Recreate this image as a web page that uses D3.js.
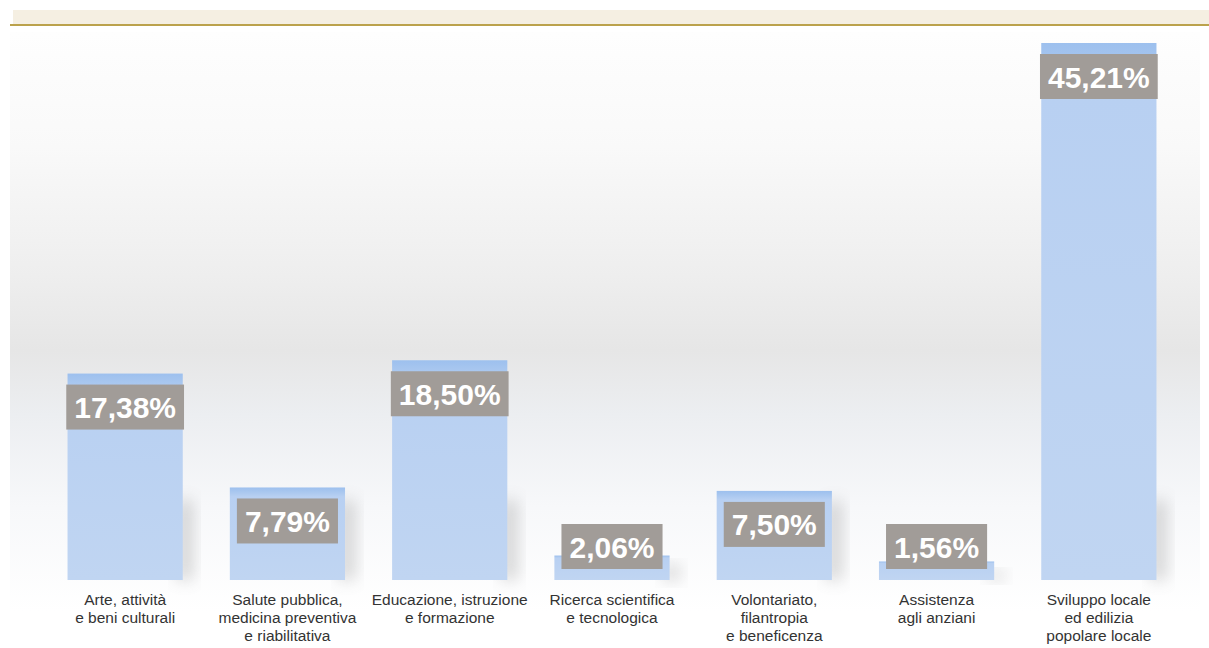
<!DOCTYPE html>
<html>
<head>
<meta charset="utf-8">
<script src="https://cdn.jsdelivr.net/npm/d3@7"></script>
<style>
  body { margin: 0; background: #fff; }
  text { font-family: "Liberation Sans", Arial, sans-serif; }
</style>
</head>
<body>
<div id="chart"></div>
<script>
// categories, one array of lines per bar
const categories = [
    ["Arte, attività", "e beni culturali"],
    ["Salute pubblica,", "medicina preventiva", "e riabilitativa"],
    ["Educazione, istruzione", "e formazione"],
    ["Ricerca scientifica", "e tecnologica"],
    ["Volontariato,", "filantropia", "e beneficenza"],
    ["Assistenza", "agli anziani"],
    ["Sviluppo locale", "ed edilizia", "popolare locale"]
];
const values = [17.38, 7.79, 18.50, 2.06, 7.50, 1.56, 45.21];

const width = 1209;
const height = 648;
const baseline = 580;

const it = d3.formatLocale({ decimal: ",", thousands: ".", grouping: [3], currency: ["", "€"] });
const fmt = v => it.format(".2f")(v) + "%";

const svg = d3.select("#chart").append("svg")
    .attr("width", width)
    .attr("height", height);

const defs = svg.append("defs");

// background glow
const bg = defs.append("linearGradient").attr("id", "bg")
    .attr("x1", 0).attr("y1", 0).attr("x2", 0).attr("y2", 1);
[[0, "#fefefe"], [0.2, "#f9f9f9"], [0.42, "#eeeeee"], [0.55, "#e6e6e6"],
 [0.66, "#eceef1"], [0.82, "#f7f8fa"], [1, "#ffffff"]]
    .forEach(s => bg.append("stop").attr("offset", s[0]).attr("stop-color", s[1]));

// bar fill: stronger blue at the top
const barGrad = defs.append("linearGradient").attr("id", "barGrad")
    .attr("x1", 0).attr("y1", 0).attr("x2", 0).attr("y2", 1);
[[0, "#9dc0ee"], [0.04, "#a7c6ef"], [0.1, "#b8d0f2"], [1, "#c0d5f2"]]
    .forEach(s => barGrad.append("stop").attr("offset", s[0]).attr("stop-color", s[1]));

const blur = defs.append("filter").attr("id", "blur")
    .attr("x", "-50%").attr("y", "-50%").attr("width", "200%").attr("height", "200%");
blur.append("feGaussianBlur").attr("stdDeviation", 8);

// header band
svg.append("rect")
    .attr("x", 13).attr("y", 10).attr("width", width - 13).attr("height", 14)
    .attr("fill", "#f5efe2");
svg.append("line")
    .attr("x1", 10).attr("x2", width).attr("y1", 25).attr("y2", 25)
    .attr("stroke", "#bba24c").attr("stroke-width", 2);

svg.append("rect")
    .attr("x", 10).attr("y", 32).attr("width", 1190).attr("height", 580)
    .attr("fill", "url(#bg)");

// scales
const x = d3.scaleBand()
    .domain(d3.range(values.length))
    .range([44, 1180])
    .paddingInner(0.29)
    .paddingOuter(0.145);

const y = d3.scaleLinear()
    .domain([0, d3.max(values)])
    .range([baseline, 43]);

const bars = svg.append("g").selectAll("g")
    .data(values)
    .join("g");

// soft shadows on the right
bars.append("rect")
    .attr("x", (d, i) => x(i) + x.bandwidth() - 6)
    .attr("y", d => Math.max(y(d) + 10, baseline - 80))
    .attr("width", 16)
    .attr("height", d => baseline - Math.max(y(d) + 10, baseline - 80))
    .attr("fill", "#777777")
    .attr("opacity", 0.3)
    .attr("filter", "url(#blur)");

bars.append("rect")
    .attr("x", (d, i) => x(i))
    .attr("y", d => y(d))
    .attr("width", x.bandwidth())
    .attr("height", d => baseline - y(d))
    .attr("fill", "url(#barGrad)");

// value labels in grey boxes
const boxH = 45;
bars.each(function (d, i) {
    const g = d3.select(this);
    const top = Math.min(y(d) + 11, baseline - 11 - boxH);
    const cx = x(i) + x.bandwidth() / 2;
    const box = g.append("rect").attr("fill", "#a19c98");
    const t = g.append("text")
        .attr("x", cx)
        .attr("y", top + boxH / 2 + 11)
        .attr("text-anchor", "middle")
        .attr("fill", "#ffffff")
        .attr("font-size", 30)
        .attr("font-weight", "bold")
        .text(fmt(d));
    const w = t.node().getComputedTextLength() + 16;
    box.attr("x", cx - w / 2).attr("y", top).attr("width", w).attr("height", boxH);
});

// category labels
const labels = svg.append("g").selectAll("text")
    .data(categories)
    .join("text")
    .attr("text-anchor", "middle")
    .attr("font-size", 15.5)
    .attr("fill", "#333333");
labels.each(function (lines, i) {
    const cx = x(i) + x.bandwidth() / 2;
    d3.select(this).selectAll("tspan")
        .data(lines)
        .join("tspan")
        .attr("x", cx)
        .attr("y", (l, j) => 605 + j * 18)
        .text(l => l);
});
</script>
</body>
</html>
